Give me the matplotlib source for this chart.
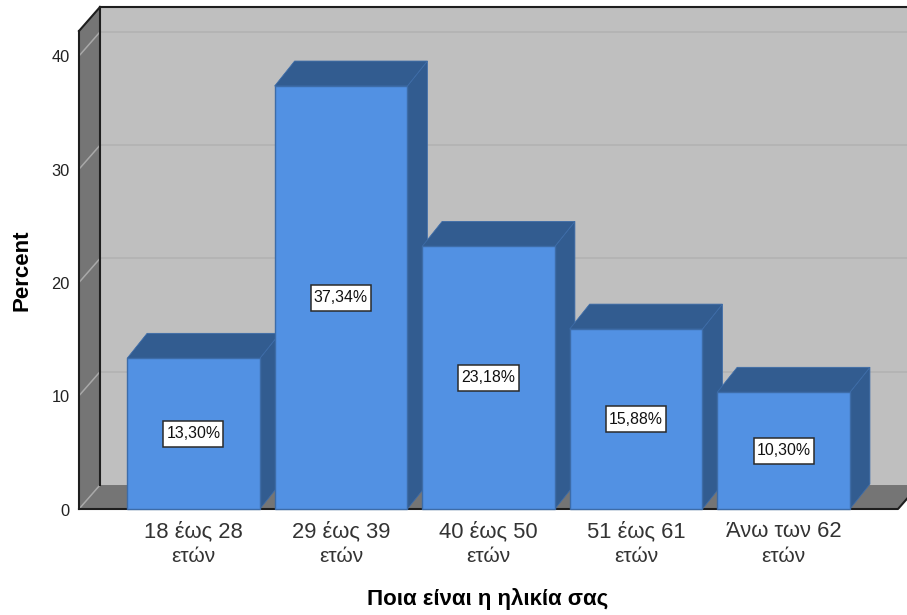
import matplotlib
matplotlib.use("Agg")
import matplotlib.pyplot as plt
from matplotlib.patches import Polygon, Rectangle
from matplotlib.transforms import ScaledTranslation

plt.rcParams['font.family'] = ['Liberation Sans', 'DejaVu Sans']

categories = ["18 έως 28", "29 έως 39", "40 έως 50", "51 έως 61", "Άνω των 62"]
category_unit = ["ετών", "ετών", "ετών", "ετών", "ετών"]
percent = [13.30, 37.34, 23.18, 15.88, 10.30]
value_labels = ["13,30%", "37,34%", "23,18%", "15,88%", "10,30%"]
y_ticks = [0, 10, 20, 30, 40]
x_title = "Ποια είναι η ηλικία σας"
y_title = "Percent"

W, H = 907, 615
fig = plt.figure(figsize=(W / 100, H / 100), dpi=100, facecolor="white")
ax = fig.add_axes([79 / W, 1 - 509 / H, (898 - 79) / W, (509 - 31) / H])
ax.set_xlim(-0.776, 4.776)
ax.set_ylim(0, 42.2)
ax.patch.set_visible(False)
for s in ax.spines.values():
    s.set_visible(False)

x0, x1 = ax.get_xlim()
top = ax.get_ylim()[1]
PX, PY = 147.5, 11.33                 # pixels per data unit
DX, DY = 21 / PX, 24 / PY             # depth of the walls
BDX, BDY = 20 / PX, 25 / PY           # depth of the bars
BW = 0.90
WALL, SIDE, GRID, GRID_S = "#BFBFBF", "#757575", "#B3B3B3", "#A9A9A9"
FRONT, DARK, EDGE = "#5291E3", "#325C90", "#3D6CA8"
LINE = "#1E1E1E"


def poly(pts, fc, z, ec="none", lw=0):
    ax.add_patch(Polygon(pts, closed=True, fc=fc, ec=ec, lw=lw, zorder=z, clip_on=False))


poly([(x0 + DX, DY), (x1 + DX, DY), (x1 + DX, top + DY), (x0 + DX, top + DY)], WALL, 1)
poly([(x0, 0), (x0 + DX, DY), (x0 + DX, top + DY), (x0, top)], SIDE, 1)
poly([(x0, 0), (x1, 0), (x1 + DX, DY), (x0 + DX, DY)], SIDE, 1)

for t in y_ticks[1:]:
    ax.plot([x0 + DX, x1 + DX], [t + DY, t + DY], color=GRID, lw=1.3, zorder=2, clip_on=False)
for t in y_ticks:
    ax.plot([x0, x0 + DX], [t, t + DY], color=GRID_S, lw=1.1, zorder=2, clip_on=False)

ax.plot([x0 + DX, x0 + DX], [DY, top + DY], color=LINE, lw=1.5, zorder=3, clip_on=False)
ax.plot([x0 + DX, x1 + DX], [top + DY, top + DY], color=LINE, lw=1.5, zorder=3, clip_on=False)
ax.plot([x0, x0 + DX], [top, top + DY], color=LINE, lw=1.5, zorder=3, clip_on=False)
ax.plot([x0, x0], [0, top], color=LINE, lw=1.5, zorder=3, clip_on=False)
ax.plot([x0, x1, x1 + DX], [0, 0, DY], color=LINE, lw=1.5, zorder=3, clip_on=False)

BOXW, BOXH = 60 / PX, 26 / PY
for i, v in enumerate(percent):
    l, r = i - BW / 2, i + BW / 2
    z = 5 + i * 0.1
    poly([(r, 0), (r + BDX, BDY), (r + BDX, v + BDY), (r, v)], DARK, z, EDGE, 0.6)
    poly([(l, v), (r, v), (r + BDX, v + BDY), (l + BDX, v + BDY)], DARK, z, EDGE, 0.6)
    poly([(l, 0), (r, 0), (r, v), (l, v)], FRONT, z, EDGE, 1.0)
    ax.add_patch(Rectangle((i - BOXW / 2, v / 2 - BOXH / 2), BOXW, BOXH, fc="white",
                           ec="#2A2A2A", lw=1.1, zorder=8))
    ax.text(i, v / 2, value_labels[i], ha="center", va="center", fontsize=11.4, color="#111111",
            zorder=9)
    ax.annotate(category_unit[i], (i, 0), xytext=(0, -38), textcoords="offset pixels",
                ha="center", va="top", fontsize=15, color="#333333", annotation_clip=False)

ax.set_xticks(range(len(categories)), categories)
ax.set_yticks(y_ticks, [str(t) for t in y_ticks])
ax.tick_params(axis="x", length=0, pad=8.5, labelsize=15.8, labelcolor="#333333")
ax.tick_params(axis="y", length=0, pad=6.5, labelsize=11.8, labelcolor="#222222")
for lab in ax.get_yticklabels():
    lab.set_verticalalignment("center")
    lab.set_transform(lab.get_transform() + ScaledTranslation(0, -2 / 100, fig.dpi_scale_trans))

fig.text(488 / W, 1 - 599 / H, x_title, ha="center", va="center", fontsize=16,
         fontweight="bold", color="black")
fig.text(22 / W, 1 - 270 / H, y_title, ha="center", va="center", rotation=90, fontsize=16,
         fontweight="bold", color="black")

fig.savefig("out.png", dpi=100)
